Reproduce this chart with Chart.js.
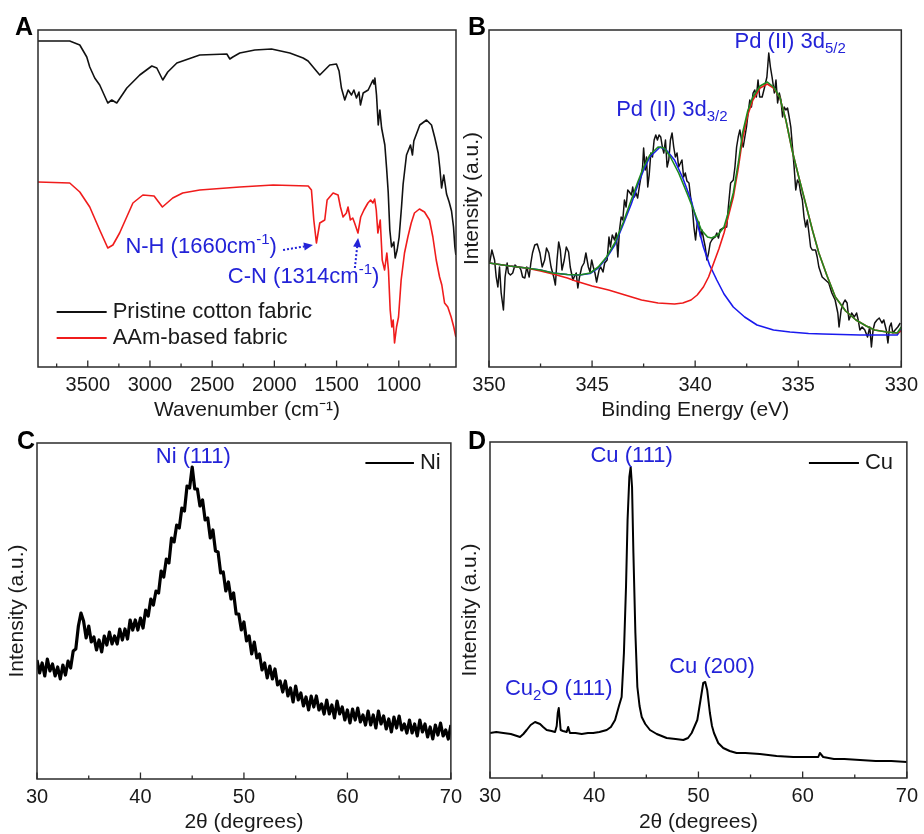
<!DOCTYPE html>
<html>
<head>
<meta charset="utf-8">
<title>FTIR, XPS and XRD spectra</title>
<script src="https://cdn.jsdelivr.net/npm/chart.js@4.4.1/dist/chart.umd.min.js"></script>
<style>
  html, body { margin: 0; padding: 0; background: #fff; }
  body { position: relative; width: 924px; height: 834px; overflow: hidden; }
  canvas { position: absolute; }
</style>
</head>
<body>
<canvas id="chartA" width="462" height="424" style="left:0px;top:0px"></canvas>
<canvas id="chartB" width="464" height="424" style="left:460px;top:0px"></canvas>
<canvas id="chartC" width="468" height="414" style="left:0px;top:420px"></canvas>
<canvas id="chartD" width="466" height="414" style="left:458px;top:420px"></canvas>
<script>
// ---- Panel A: FTIR (wavenumber in cm-1, intensity in arbitrary units) ----
const cottonWn = [3900, 3645, 3564, 3508, 3484, 3444, 3404, 3339, 3307, 3267, 3186, 3082, 2985, 2945, 2897, 2857,
  2784, 2600, 2382, 2358, 2334, 2278, 2157, 2023, 1876, 1769, 1729, 1662, 1635, 1595, 1555, 1501, 1480, 1461, 1434,
  1407, 1380, 1361, 1340, 1320, 1308, 1286, 1246, 1219, 1206, 1199, 1192, 1179, 1165, 1152, 1138, 1112, 1098, 1085,
  1072, 1058, 1040, 1029, 1013, 997, 978, 965, 938, 906, 890, 879, 831, 777, 737, 710, 683, 670, 656, 638, 616, 595,
  576, 560, 549, 541];
const cottonT = [326, 326, 322, 310, 300, 289, 282, 264, 267, 264, 279, 292, 301, 299, 287, 295,
  304, 312, 313, 308, 310, 314, 317, 318, 314, 309, 306, 296, 292, 297, 302, 303, 296, 279, 267,
  277, 272, 277, 269, 275, 262, 274, 277, 284, 287, 283, 289, 272, 242, 257, 239, 222, 199, 175,
  137, 120, 125, 109, 117, 130, 160, 183, 212, 222, 212, 226, 242, 247, 242, 229, 214, 199, 179, 192, 173, 165,
  156, 140, 120, 112];
const aamWn = [3900, 3645, 3564, 3484, 3404, 3339, 3298, 3244, 3137, 3057, 2967, 2900, 2817, 2737, 2600, 2278,
  2010, 1728, 1702, 1683, 1662, 1635, 1595, 1576, 1528, 1488, 1469, 1448, 1421, 1408, 1389, 1370, 1355, 1328, 1306,
  1280, 1248, 1226, 1208, 1194, 1181, 1168, 1149, 1133, 1114, 1096, 1083, 1069, 1056, 1045, 1034, 1018, 1002, 981,
  954, 927, 900, 874, 834, 793, 753, 726, 699, 672, 654, 632, 606, 579, 558, 541];
const aamT = [185, 184, 175, 160, 137, 119, 122, 134, 164, 172, 171, 160, 169, 174, 177, 180,
  182, 181, 177, 147, 124, 144, 147, 167, 174, 172, 160, 150, 154, 160, 147, 149, 144, 134, 150,
  157, 164, 167, 164, 168, 157, 134, 147, 107, 97, 114, 97, 57, 40, 47, 24, 40, 50, 87,
  114, 130, 144, 154, 158, 155, 147, 130, 107, 90, 82, 64, 60, 50, 40, 30];

// ---- Panel B: Pd 3d XPS (binding energy in eV) ----
const rawEv = [349.97, 349.86, 349.73, 349.65, 349.57, 349.49, 349.41, 349.30, 349.22, 349.12, 349.06, 348.96, 348.85,
  348.74, 348.64, 348.53, 348.45, 348.37, 348.26, 348.17, 348.05, 347.97, 347.89, 347.78, 347.66, 347.53, 347.42,
  347.30, 347.21, 347.10, 346.99, 346.86, 346.78, 346.70, 346.62, 346.54, 346.46, 346.35, 346.25, 346.14, 346.06,
  345.93, 345.87, 345.77, 345.69, 345.61, 345.50, 345.39, 345.30, 345.18, 345.10, 345.02, 344.94, 344.86, 344.78,
  344.66, 344.58, 344.47, 344.39, 344.27, 344.18, 344.11, 344.02, 343.91, 343.83, 343.75, 343.67, 343.59, 343.51,
  343.43, 343.35, 343.27, 343.19, 343.09, 343.03, 342.95, 342.87, 342.79, 342.71, 342.63, 342.55, 342.50, 342.42,
  342.36, 342.30, 342.23, 342.15, 342.07, 341.99, 341.91, 341.83, 341.75, 341.67, 341.59, 341.52, 341.44, 341.36,
  341.28, 341.20, 341.12, 341.04, 340.96, 340.88, 340.80, 340.64, 340.56, 340.48, 340.40, 340.30, 340.22, 340.14,
  340.06, 339.98, 339.90, 339.82, 339.74, 339.67, 339.58, 339.51, 339.43, 339.35, 339.27, 339.19, 339.11, 339.03,
  338.95, 338.87, 338.79, 338.63, 338.47, 338.39, 338.28, 338.15, 338.07, 337.99, 337.91, 337.83, 337.75, 337.67,
  337.59, 337.51, 337.43, 337.35, 337.27, 337.19, 337.11, 337.03, 336.95, 336.87, 336.75, 336.63, 336.52, 336.43,
  336.35, 336.27, 336.16, 336.08, 336.00, 335.92, 335.84, 335.76, 335.68, 335.60, 335.52, 335.44, 335.36, 335.28,
  335.20, 335.12, 335.04, 334.96, 334.88, 334.80, 334.72, 334.64, 334.56, 334.48, 334.40, 334.32, 334.16, 334.08,
  334.00, 333.84, 333.68, 333.52, 333.37, 333.21, 333.08, 333.02, 332.92, 332.81, 332.73, 332.63, 332.54, 332.41,
  332.28, 332.17, 332.09, 332.01, 331.90, 331.77, 331.64, 331.53, 331.45, 331.37, 331.29, 331.18, 331.07, 330.94,
  330.85, 330.73, 330.65, 330.57, 330.49, 330.41, 330.30, 330.17, 330.05];
const rawCounts = [104, 117, 107, 90, 80, 100, 74, 57, 90, 104, 94, 92, 94,
  102, 100, 100, 97, 90, 89, 100, 90, 104, 114, 122, 123, 114, 100,
  107, 119, 114, 100, 90, 82, 107, 125, 117, 97, 107, 120, 115, 100,
  87, 90, 94, 79, 90, 100, 104, 114, 100, 95, 107, 100, 94, 85,
  97, 100, 95, 104, 107, 130, 120, 132, 127, 134, 110, 137, 150, 147,
  167, 160, 177, 175, 172, 180, 170, 174, 169, 180, 190, 200, 219, 197,
  210, 180, 192, 214, 210, 227, 232, 227, 232, 230, 220, 214, 227, 200,
  207, 227, 234, 220, 210, 214, 200, 207, 190, 194, 186, 184, 170, 160,
  140, 127, 144, 145, 130, 137, 127, 120, 107, 114, 124, 127, 129, 130,
  134, 129, 137, 139, 140, 160, 184, 187, 200, 220, 230, 237, 227, 220,
  230, 240, 254, 267, 260, 274, 277, 270, 287, 270, 270, 280, 290, 314,
  300, 290, 274, 287, 264, 274, 267, 250, 260, 257, 259, 250, 240, 220,
  200, 177, 187, 184, 174, 167, 150, 140, 147, 134, 120, 117, 117, 110,
  100, 90, 87, 84, 74, 67, 54, 40, 57, 64, 67, 64, 47, 54,
  50, 54, 47, 37, 40, 37, 30, 40, 20, 37, 44, 47, 49, 44,
  47, 37, 24, 40, 44, 34, 37, 40, 44];
const envEv = [350, 349, 348.2, 347.5, 346.9, 346.2, 345.6, 345.1, 344.7, 344.3, 343.9, 343.5, 343.1, 342.8, 342.5,
  342.2, 341.8, 341.5, 341.2, 340.8, 340.4, 340.0, 339.7, 339.4, 339.2, 338.9, 338.6, 338.4, 338.15, 337.9, 337.7,
  337.45, 337.2, 336.85, 336.5, 336.2, 335.9, 335.6, 335.3, 334.95, 334.6, 334.3, 334.0, 333.6, 333.2, 332.7, 332.2,
  331.7, 331.3, 330.7, 330.2, 330.0];
const envFit = [104, 101, 99, 97, 94, 92.5, 92, 94, 100, 110, 124, 144, 167, 184, 200,
  212, 220, 219, 210, 194, 174, 153, 137, 130, 129, 132, 140, 154, 174, 205, 234,
  256, 270, 281, 285, 280, 270, 247, 217, 188, 160, 136, 114, 91, 70, 56, 47,
  41, 37, 35, 34, 40];
const pd52Ev = [350, 349, 348.2, 347.5, 346.9, 346.2, 345.8, 345.0, 344.2, 343.4, 342.6, 341.8, 341.0, 340.6, 340.2,
  339.9, 339.6, 339.35, 339.1, 338.85, 338.6, 338.4, 338.15, 337.9, 337.7, 337.45, 337.2, 336.85, 336.5, 336.2,
  335.9, 335.6, 335.3, 334.95, 334.6, 334.3, 334.0, 333.6, 333.2, 332.7, 332.2, 331.7, 331.3, 330.7, 330.2, 330.0];
const pd52Fit = [104, 101, 99, 96, 93, 89, 86, 81, 77, 72, 67, 64, 63, 64, 67,
  72, 80, 90, 104, 118, 134, 150, 170, 200, 228, 252, 267, 279, 283, 279,
  270, 247, 217, 188, 160, 136, 114, 91, 70, 56, 47, 41, 37, 35, 34, 36];
const pd32Ev = [350, 349, 348.2, 347.5, 346.9, 346.2, 345.6, 345.1, 344.7, 344.3, 343.9, 343.5, 343.1, 342.8, 342.5,
  342.2, 341.7, 341.4, 341.0, 340.6, 340.2, 339.9, 339.6, 339.3, 338.95, 338.6, 338.15, 337.6, 337.0, 336.2, 335.4,
  334.5, 333.8, 332.0, 330.2, 330.0];
const pd32Fit = [104, 101, 99, 97, 94, 92.5, 92, 93.5, 99, 109, 122, 142, 163, 181, 197,
  210, 220, 217, 207, 189, 167, 144, 120, 102, 87, 73, 60, 50, 42, 37, 35,
  33.5, 33, 32, 32, 38];

// ---- Panel C: Ni XRD (2 theta in degrees) ----
const niAngle = [30, 30.25, 30.5, 30.75, 31, 31.25, 31.5, 31.75, 32, 32.25, 32.5, 32.75, 33, 33.25, 33.5, 33.75,
  34, 34.25, 34.5, 34.75, 35, 35.25, 35.5, 35.75, 36, 36.25, 36.5, 36.75, 37, 37.25, 37.5, 37.75,
  38, 38.25, 38.5, 38.75, 39, 39.25, 39.5, 39.75, 40, 40.25, 40.5, 40.75, 41, 41.25, 41.5, 41.75,
  42, 42.25, 42.5, 42.75, 43, 43.25, 43.5, 43.75, 44, 44.25, 44.5, 44.75, 45, 45.25, 45.5, 45.75,
  46, 46.25, 46.5, 46.75, 47, 47.25, 47.5, 47.75, 48, 48.25, 48.5, 48.75, 49, 49.25, 49.5, 49.75,
  50, 50.25, 50.5, 50.75, 51, 51.25, 51.5, 51.75, 52, 52.25, 52.5, 52.75, 53, 53.25, 53.5, 53.75,
  54, 54.25, 54.5, 54.75, 55, 55.25, 55.5, 55.75, 56, 56.25, 56.5, 56.75, 57, 57.25, 57.5, 57.75,
  58, 58.25, 58.5, 58.75, 59, 59.25, 59.5, 59.75, 60, 60.25, 60.5, 60.75, 61, 61.25, 61.5, 61.75,
  62, 62.25, 62.5, 62.75, 63, 63.25, 63.5, 63.75, 64, 64.25, 64.5, 64.75, 65, 65.25, 65.5, 65.75,
  66, 66.25, 66.5, 66.75, 67, 67.25, 67.5, 67.75, 68, 68.25, 68.5, 68.75, 69, 69.25, 69.5, 69.75, 70];
const niCounts = [119, 106, 116, 103, 120, 108, 115, 103, 112, 100, 114, 104, 118, 111, 128, 130,
  153, 166, 158, 141, 153, 137, 142, 129, 139, 127, 143, 134, 147, 135, 143, 135,
  150, 139, 150, 140, 159, 149, 159, 149, 161, 151, 169, 163, 180, 174, 188, 186,
  208, 202, 220, 216, 241, 237, 254, 251, 271, 268, 293, 291, 312, 290, 290, 273,
  279, 259, 261, 241, 249, 228, 227, 206, 207, 188, 197, 180, 186, 165, 165, 149,
  157, 138, 143, 125, 137, 121, 125, 109, 116, 101, 113, 100, 110, 94, 98, 87,
  98, 83, 91, 77, 93, 79, 86, 73, 82, 69, 83, 72, 83, 69, 75, 65,
  79, 65, 74, 61, 78, 65, 72, 59, 69, 56, 70, 59, 71, 57, 64, 54,
  68, 54, 64, 51, 68, 55, 63, 50, 60, 47, 62, 51, 63, 49, 55, 46,
  59, 46, 55, 43, 59, 47, 55, 42, 52, 40, 54, 44, 56, 43, 49, 40, 54];

// ---- Panel D: Cu XRD ----
const cuAngle = [30.0, 30.6, 31.28, 32.0, 32.88, 33.2, 33.52, 33.9, 34.32, 34.8, 35.1, 35.44, 35.9, 36.24, 36.4,
  36.5, 36.6, 36.7, 36.78, 37.0, 37.36, 37.5, 37.67, 38.2, 38.8, 39.4, 39.9, 40.5, 41.2, 41.6, 42.0, 42.4, 42.63,
  42.85, 43.05, 43.2, 43.37, 43.5, 43.63, 43.76, 43.95, 44.14, 44.35, 44.56, 44.9, 45.35, 46.0, 46.95, 47.8, 48.55,
  49.0, 49.35, 49.89, 50.2, 50.46, 50.65, 50.84, 51.1, 51.3, 51.49, 51.9, 52.38, 53.0, 53.66, 54.5, 55.9, 57.5,
  59.1, 60.5, 61.5, 61.65, 61.97, 63.0, 64.0, 65.5, 67.0, 68.5, 70.0];
const cuCounts = [45, 46, 45, 44, 41, 44, 48, 53, 56, 54, 51, 48, 47, 46, 52,
  65, 70, 58, 48, 47, 46, 51, 45, 45, 44, 45, 45, 46, 48, 51, 58, 73, 81,
  125, 191, 258, 301, 311, 291, 225, 145, 91, 72, 61, 54, 48, 44, 40, 39, 38,
  40, 45, 58, 78, 95, 96, 88, 65, 52, 45, 35, 30, 27, 25, 25, 24, 22,
  21, 21, 21, 25, 21, 19, 19, 18, 17, 17, 16];

const FONT = "'Liberation Sans', Arial, Helvetica, sans-serif";
const INK = '#1a1a1a';
const BLUE = '#2323d8';

Chart.defaults.font.family = FONT;
Chart.defaults.color = INK;

function pairs(xs, ys) {
  return xs.map((x, i) => ({ x: x, y: ys[i] }));
}

function line(label, xs, ys, color, width, order) {
  return {
    label: label,
    data: pairs(xs, ys),
    borderColor: color,
    borderWidth: width,
    borderJoinStyle: 'round',
    pointRadius: 0,
    tension: 0,
    fill: false,
    order: order || 0,
  };
}

// text with sub/superscripts: parts = [[text, 'sup'|'sub'|undefined], ...]
function drawRich(ctx, parts, x, y, align, size, color) {
  const big = size + 'px ' + FONT;
  const small = Math.round(size * 0.66) + 'px ' + FONT;
  let w = 0;
  parts.forEach(p => { ctx.font = p[1] ? small : big; w += ctx.measureText(p[0]).width; });
  let cx = align === 'center' ? x - w / 2 : align === 'right' ? x - w : x;
  ctx.fillStyle = color;
  ctx.textAlign = 'left';
  ctx.textBaseline = 'middle';
  parts.forEach(p => {
    ctx.font = p[1] ? small : big;
    const dy = p[1] === 'sup' ? -size * 0.33 : p[1] === 'sub' ? size * 0.3 : 0;
    ctx.fillText(p[0], cx, y + dy);
    cx += ctx.measureText(p[0]).width;
  });
}

function dottedArrow(ctx, x1, y1, x2, y2, color) {
  const ang = Math.atan2(y2 - y1, x2 - x1);
  const head = 9, half = 4;
  const bx = x2 - head * Math.cos(ang), by = y2 - head * Math.sin(ang);
  ctx.save();
  ctx.strokeStyle = color;
  ctx.fillStyle = color;
  ctx.lineWidth = 2;
  ctx.setLineDash([2, 2]);
  ctx.beginPath();
  ctx.moveTo(x1, y1);
  ctx.lineTo(bx, by);
  ctx.stroke();
  ctx.setLineDash([]);
  ctx.beginPath();
  ctx.moveTo(x2, y2);
  ctx.lineTo(bx + half * Math.sin(ang), by - half * Math.cos(ang));
  ctx.lineTo(bx - half * Math.sin(ang), by + half * Math.cos(ang));
  ctx.closePath();
  ctx.fill();
  ctx.restore();
}

// frame, inward ticks, panel letter, labels, arrows and legend
function makeDecor(spec) {
  return {
    id: 'decor',
    afterDraw(chart) {
      const { ctx, chartArea: area, scales: { x, y } } = chart;
      ctx.save();
      ctx.strokeStyle = '#2b2b2b';
      ctx.lineWidth = 1.5;
      ctx.strokeRect(area.left, area.top, area.right - area.left, area.bottom - area.top);
      ctx.lineWidth = 1.3;
      x.ticks.forEach(t => {
        const px = x.getPixelForValue(t.value);
        const len = t.label === '' ? 3.5 : 6.5;
        ctx.beginPath();
        ctx.moveTo(px, area.bottom);
        ctx.lineTo(px, area.bottom - len);
        ctx.stroke();
      });

      ctx.fillStyle = '#000';
      ctx.font = 'bold 25px ' + FONT;
      ctx.textAlign = 'left';
      ctx.textBaseline = 'alphabetic';
      ctx.fillText(spec.letter, area.left + spec.letterAt[0], area.top + spec.letterAt[1]);

      (spec.legend || []).forEach(item => {
        const p1 = x.getPixelForValue(item.from), p2 = x.getPixelForValue(item.to);
        const py = y.getPixelForValue(item.at);
        ctx.strokeStyle = item.color;
        ctx.lineWidth = 1.8;
        ctx.beginPath();
        ctx.moveTo(p1, py);
        ctx.lineTo(p2, py);
        ctx.stroke();
        drawRich(ctx, [[item.text]], Math.max(p1, p2) + 6, py, 'left', 22, INK);
      });

      (spec.labels || []).forEach(item => {
        drawRich(ctx, item.parts, x.getPixelForValue(item.x), y.getPixelForValue(item.y), item.align, 22, BLUE);
      });

      (spec.arrows || []).forEach(a => {
        dottedArrow(ctx, x.getPixelForValue(a.from[0]), y.getPixelForValue(a.from[1]),
          x.getPixelForValue(a.to[0]), y.getPixelForValue(a.to[1]), BLUE);
      });
      ctx.restore();
    }
  };
}

function makeOptions(o) {
  return {
    responsive: false,
    maintainAspectRatio: false,
    animation: false,
    layout: { padding: o.padding },
    plugins: { legend: { display: false }, tooltip: { enabled: false } },
    scales: {
      x: {
        type: 'linear',
        reverse: o.reverse,
        min: o.xMin,
        max: o.xMax,
        grid: { display: false, drawTicks: false },
        border: { display: false },
        ticks: {
          stepSize: o.step,
          autoSkip: false,
          maxRotation: 0,
          minRotation: 0,
          includeBounds: false,
          padding: 6,
          color: INK,
          font: { size: 20 },
          callback: v => (Math.abs(v % o.major) < 1e-6 ? String(v) : ''),
        },
        title: { display: true, text: o.xTitle, color: INK, font: { size: 21 }, padding: { top: 0, bottom: o.xTitlePad } },
        afterFit: s => { s.height = o.xHeight; },
      },
      y: {
        type: 'linear',
        min: 0,
        max: o.yMax,
        display: o.yTitle ? true : false,
        grid: { display: false, drawTicks: false },
        border: { display: false },
        ticks: { display: false },
        title: { display: !!o.yTitle, text: o.yTitle, color: INK, font: { size: 21 }, padding: { top: o.yTitlePad || 0, bottom: 0 } },
        afterFit: s => { s.width = o.yWidth; },
      },
    },
  };
}

// Panel A
new Chart(document.getElementById('chartA'), {
  type: 'line',
  data: {
    datasets: [
      line('Pristine cotton fabric', cottonWn, cottonT, '#111111', 1.6, 1),
      line('AAm-based fabric', aamWn, aamT, '#f01c1c', 1.6, 2),
    ],
  },
  options: makeOptions({
    reverse: true, xMin: 540, xMax: 3900, step: 250, major: 500,
    xTitle: 'Wavenumber (cm\u207B\u00B9)', xTitlePad: 1, xHeight: 57, yMax: 337, yWidth: 0,
    padding: { left: 38, top: 30, right: 6, bottom: 0 },
  }),
  plugins: [makeDecor({
    letter: 'A', letterAt: [-23, 5],
    legend: [
      { from: 3750, to: 3348, at: 55, text: 'Pristine cotton fabric', color: '#111111' },
      { from: 3750, to: 3348, at: 29, text: 'AAm-based fabric', color: '#f01c1c' },
    ],
    labels: [
      { x: 1980, y: 120, align: 'right', parts: [['N-H (1660cm'], ['-1', 'sup'], [')']] },
      { x: 2374, y: 90, align: 'left', parts: [['C-N (1314cm'], ['-1', 'sup'], [')']] },
    ],
    arrows: [
      { from: [1930, 117], to: [1690, 122] },
      { from: [1353, 99], to: [1327, 129] },
    ],
  })],
});

// Panel B
new Chart(document.getElementById('chartB'), {
  type: 'line',
  data: {
    datasets: [
      line('Raw', rawEv, rawCounts, '#111111', 1.5, 4),
      line('Pd(II) 3d3/2', pd32Ev, pd32Fit, '#1a1aee', 1.6, 3),
      line('Pd(II) 3d5/2', pd52Ev, pd52Fit, '#ee1a1a', 1.6, 2),
      line('Envelope', envEv, envFit, '#1f8a1f', 1.6, 1),
    ],
  },
  options: makeOptions({
    reverse: true, xMin: 330, xMax: 350, step: 2.5, major: 5,
    xTitle: 'Binding Energy (eV)', xTitlePad: 1, xHeight: 57, yMax: 337, yWidth: 29,
    yTitle: 'Intensity (a.u.)', yTitlePad: 0,
    padding: { left: 0, top: 30, right: 17, bottom: 0 },
  }),
  plugins: [makeDecor({
    letter: 'B', letterAt: [-21, 5],
    labels: [
      { x: 338.09, y: 325, align: 'left', parts: [['Pd (II) 3d'], ['5/2', 'sub']] },
      { x: 343.83, y: 257, align: 'left', parts: [['Pd (II) 3d'], ['3/2', 'sub']] },
    ],
  })],
});

// Panel C
new Chart(document.getElementById('chartC'), {
  type: 'line',
  data: { datasets: [line('Ni', niAngle, niCounts, '#000000', 3.2, 1)] },
  options: makeOptions({
    reverse: false, xMin: 30, xMax: 70, step: 5, major: 10,
    xTitle: '2\u03B8 (degrees)', xTitlePad: -1, xHeight: 55, yMax: 336, yWidth: 37,
    yTitle: 'Intensity (a.u.)', yTitlePad: 5,
    padding: { left: 0, top: 23, right: 14, bottom: 0 },
  }),
  plugins: [makeDecor({
    letter: 'C', letterAt: [-20, 6],
    legend: [{ from: 61.74, to: 66.43, at: 316, text: 'Ni', color: '#000000' }],
    labels: [{ x: 45.1, y: 322, align: 'center', parts: [['Ni (111)']] }],
  })],
});

// Panel D
new Chart(document.getElementById('chartD'), {
  type: 'line',
  data: { datasets: [line('Cu', cuAngle, cuCounts, '#000000', 2, 1)] },
  options: makeOptions({
    reverse: false, xMin: 30, xMax: 70, step: 5, major: 10,
    xTitle: '2\u03B8 (degrees)', xTitlePad: -1, xHeight: 56, yMax: 336, yWidth: 32,
    yTitle: 'Intensity (a.u.)', yTitlePad: 0,
    padding: { left: 0, top: 22, right: 17, bottom: 0 },
  }),
  plugins: [makeDecor({
    letter: 'D', letterAt: [-22, 7],
    legend: [{ from: 60.6, to: 65.4, at: 315, text: 'Cu', color: '#000000' }],
    labels: [
      { x: 43.59, y: 322, align: 'center', parts: [['Cu (111)']] },
      { x: 36.6, y: 89, align: 'center', parts: [['Cu'], ['2', 'sub'], ['O (111)']] },
      { x: 51.3, y: 111, align: 'center', parts: [['Cu (200)']] },
    ],
  })],
});
</script>
</body>
</html>
